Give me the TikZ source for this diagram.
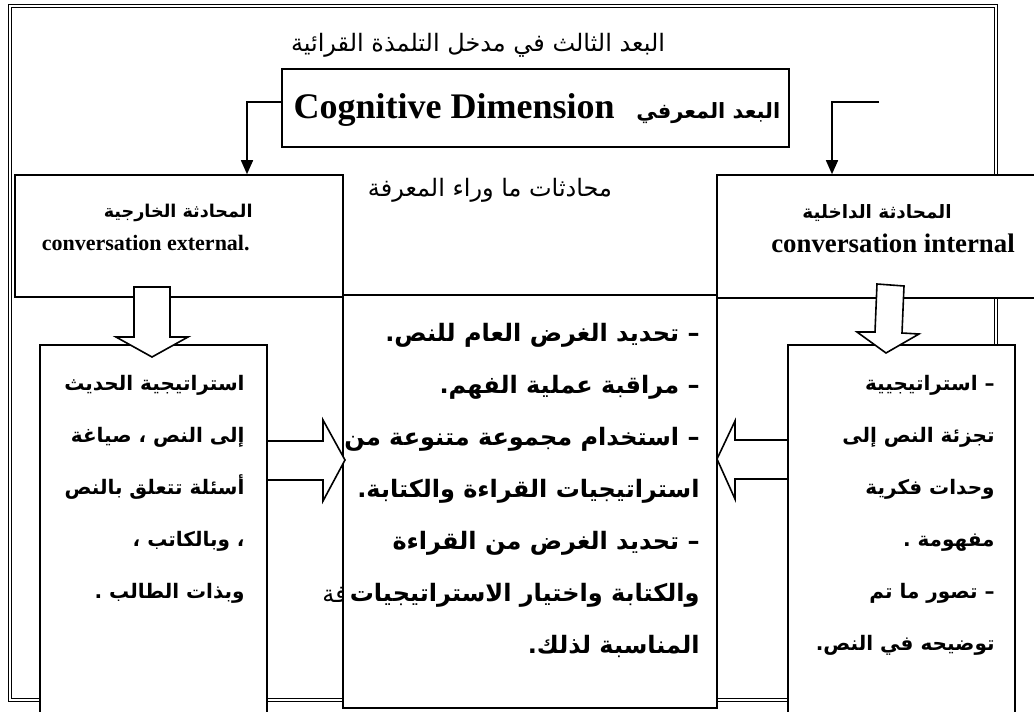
\documentclass[tikz,border=0pt]{standalone}
\usepackage{fontspec}
\setmainfont{Liberation Serif}
\newfontfamily\arabicfont[Script=Arabic]{DejaVu Sans}
\TeXXeTstate=1
\usetikzlibrary{positioning, arrows.meta, fit}

\newcommand{\arb}[1]{\beginR #1\endR}

\begin{document}
\begin{tikzpicture}[x=0.5pt, y=-0.5pt,
  box/.style={draw, line width=0.8pt, fill=white, inner sep=0pt},
  outerframe/.style={draw, double, line width=0.6pt, double distance=1.2pt},
  blockarrow/.style={draw, line width=0.8pt, fill=white, line join=miter},
  arr/.style={-{Triangle[length=7pt, width=6pt]}, line width=0.8pt},
  plaintext/.style={font=\arabicfont\fontsize{12}{16}\selectfont, inner sep=0pt},
  boldtext/.style={font=\arabicfont\bfseries\fontsize{12}{26}\selectfont, align=right, inner sep=0pt},
  sidetext/.style={font=\arabicfont\bfseries\fontsize{10}{26}\selectfont, align=right, inner sep=0pt},
  entext/.style={font=\bfseries\fontsize{13.4}{16}\selectfont, inner sep=0pt}]

  \clip (0,0) rectangle (1034,712);

  % Outer frame
  \draw[outerframe] (10,6) rectangle (996,700);
  \node[plaintext] (title) at (478,45) {\arb{البعد الثالث في مدخل التلمذة القرائية}};

  % Cognitive box
  \node[box, fit={(282,69) (789,147)}] (cog) {};
  \node[entext, font=\bfseries\fontsize{18}{20}\selectfont] (cogtext) at (537,110)
    {Cognitive Dimension\hspace{0.6em}{\arabicfont\fontsize{10.5}{16}\selectfont\arb{البعد المعرفي}}};

  % Upper boxes
  \node[box, fit={(15,175) (343,297)}] (ext) {};
  \node[box, fit={(717,175) (1045,298)}] (int) {};
  \node[sidetext, font=\arabicfont\bfseries\fontsize{8.8}{16}\selectfont, anchor=east] (extar) at (253,213) {\arb{المحادثة الخارجية}};
  \node[entext, font=\bfseries\fontsize{11}{16}\selectfont, anchor=east] (exten) at (250,243) {conversation external.};
  \node[sidetext, font=\arabicfont\bfseries\fontsize{9.2}{16}\selectfont] (intar) at (877,213) {\arb{المحادثة الداخلية}};
  \node[entext] (inten) at (893,243) {conversation internal};
  \node[plaintext] (meta) at (490,190) {\arb{محادثات ما وراء المعرفة}};
  \node[plaintext, anchor=west] (metahid) at (322,596) {\arb{محادثات ما وراء المعرفة}};

  % Lower boxes
  \node[box, fit={(40,345) (267,730)}] (talk) {};
  \node[box, fit={(788,345) (1015,730)}] (split) {};
  \node[box, fit={(343,295) (717,708)}] (monitor) {};

  \node[sidetext, anchor=north east] (talktext) at (245,375) {
    \arb{استراتيجية الحديث}\\
    \arb{إلى النص ، صياغة}\\
    \arb{أسئلة تتعلق بالنص}\\
    \arb{، وبالكاتب ،}\\
    \arb{وبذات الطالب .}};
  \node[sidetext, anchor=north east] (splittext) at (995,375) {
    \arb{– استراتيجيية}\\
    \arb{تجزئة النص إلى}\\
    \arb{وحدات فكرية}\\
    \arb{مفهومة .}\\
    \arb{– تصور ما تم}\\
    \arb{توضيحه في النص.}};
  \node[boldtext, anchor=north east] (montext) at (700,323) {
    \arb{– تحديد الغرض العام للنص.}\\
    \arb{– مراقبة عملية الفهم.}\\
    \arb{– استخدام مجموعة متنوعة من}\\
    \arb{استراتيجيات القراءة والكتابة.}\\
    \arb{– تحديد الغرض من القراءة}\\
    \arb{والكتابة واختيار الاستراتيجيات}\\
    \arb{المناسبة لذلك.}};

  % Thin arrows
  \coordinate (intfree) at (879,102);
  \draw[arr] (cog.west |- 0,102) -| (ext.north -| 247,0);
  \draw[arr] (intfree) -| (int.north -| 832,0);

  % Block arrows
  \draw[blockarrow] (134,287) -- (170,287) -- (170,337) -- (188,337) -- (152,357)
    -- (116,337) -- (134,337) -- cycle;
  \draw[blockarrow] (877,284) -- (904,286) -- (902,333) -- (919,334) -- (886,353)
    -- (857,332) -- (875,332) -- cycle;
  \draw[blockarrow] (267,441) -- (323,441) -- (323,420) -- (345,460) -- (323,501)
    -- (323,480) -- (267,480) -- cycle;
  \draw[blockarrow] (788,440) -- (735,440) -- (735,421) -- (717,459) -- (735,499)
    -- (735,479) -- (788,479) -- cycle;
\end{tikzpicture}
\end{document}
